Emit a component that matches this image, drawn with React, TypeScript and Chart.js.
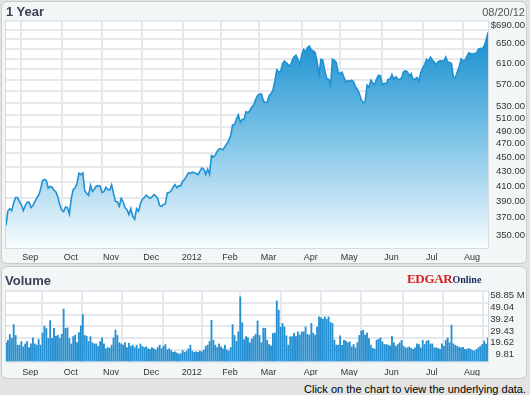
import React, { useEffect, useRef } from 'react';
import { Chart, registerables } from 'chart.js';

Chart.register(...registerables);

// ---------- DATA ----------
// trading-day index of first trading day of each month (Aug 22 2011 = 0)
const monthStartIdx = [8, 29, 50, 71, 92, 112, 132, 154, 174, 196, 217, 238];
const monthLabels = ['Sep', 'Oct', 'Nov', 'Dec', '2012', 'Feb', 'Mar', 'Apr', 'May', 'Jun', 'Jul', 'Aug'];

const priceGridValues = [350, 370, 390, 410, 430, 450, 470, 490, 510, 530, 550, 570, 590, 610, 630, 650, 670, 690];
const priceTickLabels = ['350.00', '370.00', '390.00', '410.00', '430.00', '450.00', '470.00', '490.00', '510.00', '530.00', '', '570.00', '', '610.00', '', '650.00', '', '$690.00'];

const volumeGridValues = [0, 9.81, 19.62, 29.43, 39.24, 49.04, 58.85];
const volumeTickLabels = ['', '9.81', '19.62', '29.43', '39.24', '49.04', '58.85 M'];

const priceClose = [
  // Aug 2011
  356.44, 373.6, 376.18, 373.72, 383.58, 389.97, 389.99, 384.83,
  // Sep
  381.03, 374.05, 379.74, 383.93, 384.14, 377.48, 379.94, 384.62, 389.3, 392.96, 400.5, 411.63, 413.45, 412.14, 401.82, 404.3, 403.17, 399.26, 397.01, 390.57, 381.32,
  // Oct
  374.6, 372.5, 378.25, 377.37, 369.8, 388.81, 400.29, 402.19, 408.43, 422.0, 419.99, 422.24, 398.62, 395.31, 392.87, 405.77, 397.77, 400.6, 404.69, 404.95, 404.78,
  // Nov
  396.51, 397.41, 403.07, 400.24, 399.73, 406.23, 395.28, 385.22, 384.62, 379.26, 388.83, 384.77, 377.41, 374.94, 369.01, 376.51, 366.99, 363.57, 376.12, 373.2, 382.2,
  // Dec
  387.93, 389.7, 393.01, 390.95, 389.09, 390.66, 393.62, 391.84, 388.81, 380.19, 378.94, 381.02, 382.21, 395.95, 396.45, 398.55, 403.33, 406.53, 402.64, 405.12, 405.0,
  // Jan 2012
  411.23, 413.44, 418.03, 422.4, 421.73, 423.24, 422.55, 421.39, 419.81, 424.7, 429.11, 427.75, 420.3, 427.41, 420.41, 446.66, 444.63, 447.28, 453.01, 456.48,
  // Feb
  456.19, 455.12, 459.68, 463.97, 468.83, 476.68, 493.17, 493.42, 502.6, 509.46, 497.67, 502.21, 502.12, 514.85, 513.04, 516.39, 522.41, 525.76, 535.41, 542.44,
  // Mar
  544.47, 545.18, 533.16, 530.26, 530.69, 541.99, 545.17, 552.0, 568.1, 589.58, 585.56, 585.57, 601.1, 605.96, 602.5, 599.34, 596.05, 606.98, 614.48, 617.62, 609.86, 599.55,
  // Apr
  618.63, 629.32, 624.31, 633.68, 636.23, 628.44, 626.2, 622.77, 605.23, 580.13, 609.7, 608.34, 587.44, 572.98, 571.7, 560.28, 610.0, 607.7, 603.0, 583.98,
  // May
  582, 585, 575, 566, 569, 568, 570, 567, 558, 553, 546, 535, 530, 531, 561, 557, 570, 565, 562, 572, 579, 578,
  // Jun
  560.99, 564.29, 562.83, 571.46, 571.72, 580.32, 571.17, 576.16, 572.16, 571.53, 574.13, 585.78, 587.41, 585.74, 577.67, 582.1, 570.76, 572.02, 574.5, 569.05, 584.0,
  // Jul
  592.52, 599.41, 609.94, 605.88, 613.89, 608.21, 604.43, 598.9, 604.97, 606.91, 606.94, 606.26, 614.32, 604.3, 603.83, 600.92, 574.97, 574.88, 585.16, 595.03, 610.76,
  // Aug
  606.81, 607.79, 615.7, 622.55, 620.91, 619.86, 621.7, 621.7, 630.0, 631.69, 630.83, 636.34, 648.11, 665.15,
];

// daily volume, millions of shares
const volumeM = [
  16, 18, 22.8, 19.5, 31, 22, 14, 14,
  17, 12.6, 15, 17, 12, 15, 20, 15, 14, 18.7, 14, 24, 29.7, 27.8, 19.5, 34.3, 19.5, 28, 21.4, 22.2, 19.5,
  23, 44, 27.8, 28.3, 19.5, 15, 21, 22.2, 16, 24.4, 30, 39.3, 22, 21.4, 17, 21, 16, 15, 15, 13, 17,
  20, 15, 11, 12, 11.6, 14, 20, 26.5, 22, 16, 15, 14, 16, 12, 15.6, 13, 14, 12, 14, 11, 15,
  13, 12, 12.5, 11, 10.5, 12, 11, 10, 12, 14, 11, 13, 14.5, 10, 11, 9.5, 8, 8.5, 7.5, 6.5, 7,
  9.5, 8, 9, 11, 14, 9, 8, 8.5, 8, 9, 8.5, 10, 13, 14, 17, 34.6, 18, 14, 12, 15,
  12.5, 11, 14, 10, 9, 12, 31, 22, 17, 25, 54, 32.6, 18.5, 21, 20, 16, 19, 21, 23, 34,
  22, 16, 28, 28, 18, 14.5, 13.5, 23.7, 24, 50.6, 43, 29, 32, 29, 21.7, 14, 21, 21, 23.7, 21, 25, 22.3,
  25, 25, 29, 23, 22.3, 32, 24, 22.3, 29, 37.4, 36.6, 35.4, 37.4, 35.4, 37.4, 32.7, 31.9, 18.2, 14, 14,
  21.7, 13.8, 18, 17.3, 16, 16.7, 12.6, 14.5, 11.8, 16.2, 22, 25.6, 26.4, 22.3, 24, 19.5, 14, 11.3, 10.7, 18, 18.8, 20,
  16.7, 14.5, 14.5, 14, 13.4, 21.3, 15.9, 13.1, 14.5, 15.9, 17.9, 13.1, 11.8, 11.8, 12.4, 11.3, 10.4, 11.8, 15, 14.5, 11.8,
  17.9, 14.5, 17.3, 17.9, 15, 15, 11.8, 11.8, 11.3, 10.4, 15, 13, 17.9, 20, 16, 30.5, 15, 13.9, 13, 12.2, 11.8,
  12.2, 10.4, 10.4, 11.3, 10.4, 9.5, 9, 10.4, 11.8, 13, 14.5, 17.3, 15, 20,
];

// ---------- STYLE ----------
const FONT = '"Liberation Sans", Arial, sans-serif';
const GRID = '#e5e8ed';

const areaBg = {
  id: 'areaBg',
  beforeDraw(chart: any) {
    const { ctx, chartArea: a } = chart;
    if (!a) return;
    ctx.save();
    ctx.fillStyle = '#ffffff';
    ctx.fillRect(a.left, a.top, a.right - a.left, a.bottom - a.top);
    ctx.strokeStyle = '#d6dae0';
    ctx.lineWidth = 1;
    ctx.strokeRect(a.left - 0.5, a.top - 0.5, a.right - a.left + 1, a.bottom - a.top + 1);
    ctx.restore();
  },
};

const volLabels = {
  id: 'volLabels',
  afterDraw(chart: any) {
    const { ctx } = chart;
    const ys = chart.scales.y;
    ctx.save();
    ctx.font = `9.5px ${FONT}`;
    ctx.fillStyle = '#333';
    ctx.textBaseline = 'middle';
    ctx.textAlign = 'left';
    volumeGridValues.forEach((v, i) => {
      const label = volumeTickLabels[i];
      if (!label) return;
      const num = label.split(' ')[0];
      const x = 512 - ctx.measureText(num).width;
      ctx.fillText(label, x, ys.getPixelForValue(v) + 4.5);
    });
    ctx.restore();
  },
};

const monthAxis = (pad: number) => ({
  type: 'linear' as const,
  min: 0,
  max: priceClose.length - 1,
  offset: false,
  afterBuildTicks: (s: any) => {
    s.ticks = monthStartIdx.map((v) => ({ value: v }));
  },
  afterFit: (s: any) => {
    s.height = 14;
  },
  grid: { color: GRID, lineWidth: 2, drawTicks: false },
  border: { display: false },
  ticks: {
    autoSkip: false,
    maxRotation: 0,
    padding: pad,
    labelOffset: 9,
    color: '#333',
    font: { size: 9, family: FONT },
    callback: (_v: any, i: number) => monthLabels[i],
  },
});

export default function App() {
  const priceRef = useRef<HTMLCanvasElement | null>(null);
  const volRef = useRef<HTMLCanvasElement | null>(null);

  useEffect(() => {
    const priceChart = new Chart(priceRef.current as HTMLCanvasElement, {
      type: 'line',
      data: {
        datasets: [
          {
            data: priceClose.map((y, i) => ({ x: i, y })),
            borderColor: '#2091d2',
            borderWidth: 1.6,
            pointRadius: 0,
            tension: 0,
            fill: 'start',
            backgroundColor: (c: any) => {
              const { chart } = c;
              const a = chart.chartArea;
              if (!a) return '#7cc3e6';
              const g = chart.ctx.createLinearGradient(0, a.top, 0, a.bottom);
              g.addColorStop(0, '#1a8ccc');
              g.addColorStop(0.15, '#2b99d4');
              g.addColorStop(0.5, '#79c2e6');
              g.addColorStop(0.78, '#bfe1f3');
              g.addColorStop(1, '#f8fcfe');
              return g;
            },
          },
        ],
      },
      options: {
        animation: false,
        responsive: false,
        maintainAspectRatio: false,
        layout: { padding: { top: 19, left: 4, right: 2, bottom: 2 } },
        plugins: { legend: { display: false }, tooltip: { enabled: false } },
        scales: {
          x: monthAxis(4),
          y: {
            type: 'logarithmic',
            position: 'right',
            min: 331.3,
            max: 690,
            afterBuildTicks: (s: any) => {
              s.ticks = priceGridValues.map((v) => ({ value: v }));
            },
            afterFit: (s: any) => {
              s.width = 37;
            },
            grid: { color: GRID, lineWidth: 2, drawTicks: false },
            border: { display: false },
            ticks: {
              autoSkip: false,
              padding: 2,
              crossAlign: 'far',
              labelOffset: 4,
              color: '#333',
              font: { size: 9.5, family: FONT },
              callback: (_v: any, i: number) => priceTickLabels[i],
            },
          },
        },
      } as any,
      plugins: [areaBg],
    });

    const volChart = new Chart(volRef.current as HTMLCanvasElement, {
      type: 'bar',
      data: {
        datasets: [
          {
            data: volumeM.map((y, i) => ({ x: i, y })),
            backgroundColor: '#2590d2',
            barThickness: 1.2,
            borderWidth: 0,
          },
        ],
      },
      options: {
        animation: false,
        responsive: false,
        maintainAspectRatio: false,
        layout: { padding: { top: 23, left: 4, right: 2, bottom: 2 } },
        plugins: { legend: { display: false }, tooltip: { enabled: false } },
        scales: {
          x: monthAxis(5),
          y: {
            type: 'linear',
            position: 'right',
            min: 0,
            max: 58.85,
            afterBuildTicks: (s: any) => {
              s.ticks = volumeGridValues.map((v) => ({ value: v }));
            },
            afterFit: (s: any) => {
              s.width = 37;
            },
            grid: { color: GRID, lineWidth: 2, drawTicks: false },
            border: { display: false },
            ticks: { display: false },
          },
        },
      } as any,
      plugins: [areaBg, volLabels],
    });

    return () => {
      priceChart.destroy();
      volChart.destroy();
    };
  }, []);

  const panel: React.CSSProperties = {
    position: 'absolute',
    left: 1,
    width: 524,
    background: '#f3f6f6',
    border: '1px solid #c6cacb',
    borderRadius: 6,
  };

  return (
    <div
      style={{
        position: 'fixed',
        left: 0,
        top: 0,
        width: 530,
        height: 395,
        background: '#e3e3e3',
        overflow: 'hidden',
        fontFamily: FONT,
      }}
    >
      <div style={{ ...panel, top: 1, height: 261 }} />
      <div style={{ ...panel, top: 266, height: 111 }} />
      <canvas ref={priceRef} width={525} height={262} style={{ position: 'absolute', left: 2, top: 2, width: 525, height: 262 }} />
      <canvas ref={volRef} width={525} height={110} style={{ position: 'absolute', left: 2, top: 268, width: 525, height: 110 }} />
      <div style={{ position: 'absolute', left: 6, top: 4, fontSize: 13, fontWeight: 'bold', lineHeight: '15px', color: '#3a4255' }}>1 Year</div>
      <div style={{ position: 'absolute', right: 5, top: 6, fontSize: 11, lineHeight: '13px', color: '#555' }}>08/20/12</div>
      <div style={{ position: 'absolute', left: 5, top: 273, fontSize: 13, fontWeight: 'bold', lineHeight: '15px', color: '#3a4255' }}>Volume</div>
      <div style={{ position: 'absolute', left: 407, top: 271, whiteSpace: 'nowrap', lineHeight: '14px', fontFamily: '"Liberation Serif", serif', fontWeight: 'bold' }}>
        <span style={{ fontSize: 13, color: '#d81e1e', letterSpacing: -0.3 }}>EDGAR</span>
        <span style={{ fontSize: 10, color: '#1b2a5c' }}>Online</span>
      </div>
      <div style={{ position: 'absolute', right: 4, top: 382, fontSize: 11, lineHeight: '14px', color: '#000', whiteSpace: 'nowrap' }}>
        Click on the chart to view the underlying data.
      </div>
    </div>
  );
}
